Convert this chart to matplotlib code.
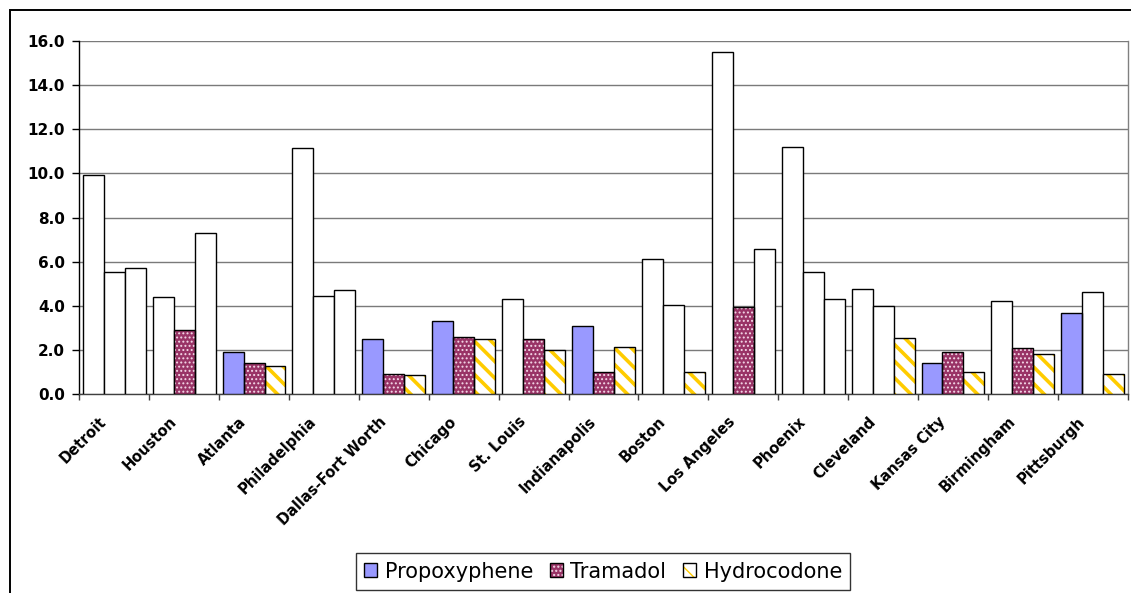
import numpy as np
import matplotlib
matplotlib.use("Agg")
import matplotlib.pyplot as plt
import matplotlib.transforms as mtransforms
from matplotlib.patches import Rectangle, Patch
from matplotlib.legend_handler import HandlerTuple

cities = ["Detroit", "Houston", "Atlanta", "Philadelphia", "Dallas-Fort Worth",
          "Chicago", "St. Louis", "Indianapolis", "Boston", "Los Angeles",
          "Phoenix", "Cleveland", "Kansas City", "Birmingham", "Pittsburgh"]
series_names = ["Propoxyphene", "Tramadol", "Hydrocodone"]
propoxyphene = [9.93, 4.39, 1.90, 11.15, 2.50, 3.31, 4.32, 3.11, 6.14, 15.52, 11.21, 4.78, 1.42, 4.24, 3.70]
tramadol = [5.52, 2.90, 1.42, 4.47, 0.93, 2.61, 2.49, 1.00, 4.04, 3.97, 5.52, 3.98, 1.90, 2.08, 4.65]
hydrocodone = [5.73, 7.29, 1.28, 4.71, 0.86, 2.49, 2.01, 2.14, 1.02, 6.57, 4.32, 2.55, 1.02, 1.82, 0.93]
# bars that appear unfilled (plain white) in the original chart
propoxyphene_unfilled = [1, 1, 0, 1, 0, 0, 1, 0, 1, 1, 1, 1, 0, 1, 0]
tramadol_unfilled = [1, 0, 0, 1, 0, 0, 0, 0, 1, 0, 1, 1, 0, 0, 1]
hydrocodone_unfilled = [1, 1, 0, 1, 0, 0, 0, 0, 0, 1, 1, 0, 0, 0, 0]
yticks = [0, 2, 4, 6, 8, 10, 12, 14, 16]

W, H = 1131, 593
fig = plt.figure(figsize=(W / 100, H / 100), dpi=100)
ax = fig.add_axes([79.3 / W, 1 - 394.3 / H, (1127.7 - 79.3) / W, (394.3 - 41) / H])

styles = [
    dict(face="#9999FF", hatch=None, hcolor=None, hlw=None),
    dict(face="#993366", hatch="....", hcolor="#F4D8E8", hlw=0.9),
    dict(face="white", hatch="\\\\", hcolor="#FFCC00", hlw=2.6),
]
data = [propoxyphene, tramadol, hydrocodone]
unfilled = [propoxyphene_unfilled, tramadol_unfilled, hydrocodone_unfilled]

x = np.arange(len(cities))
bw = 0.3
legend_handles = []
for k, (vals, unf, st) in enumerate(zip(data, unfilled, styles)):
    xs = x + (k - 1) * bw
    for xi, v, u in zip(xs, vals, unf):
        if u:
            ax.bar(xi, v, bw, color="white", edgecolor="black", linewidth=1.0, zorder=3)
        else:
            if st["hatch"]:
                with plt.rc_context({"hatch.linewidth": st["hlw"]}):
                    b = ax.bar(xi, v, bw, color=st["face"], edgecolor=st["hcolor"],
                               linewidth=0, hatch=st["hatch"], zorder=3)
                    for p in b:
                        if hasattr(p, "set_hatch_linewidth"):
                            p.set_hatch_linewidth(st["hlw"])
            else:
                ax.bar(xi, v, bw, color=st["face"], linewidth=0, zorder=3)
            ax.bar(xi, v, bw, fill=False, edgecolor="black", linewidth=1.0, zorder=4)
    if st["hatch"]:
        with plt.rc_context({"hatch.linewidth": st["hlw"]}):
            hp = Patch(facecolor=st["face"], edgecolor=st["hcolor"], linewidth=0, hatch=st["hatch"])
            if hasattr(hp, "set_hatch_linewidth"):
                hp.set_hatch_linewidth(st["hlw"])
    else:
        hp = Patch(facecolor=st["face"], linewidth=0)
    he = Patch(fill=False, edgecolor="black", linewidth=1.0)
    legend_handles.append((hp, he))

ax.set_xlim(-0.5, len(cities) - 0.5)
ax.set_ylim(0, 16)
ax.set_yticks(yticks)
ax.set_yticklabels([f"{t:.1f}" for t in yticks], fontsize=11, fontweight="bold",
                   family="DejaVu Sans")
ax.yaxis.grid(True, color="#7a7a7a", linewidth=1.0, zorder=0)
ax.set_axisbelow(True)
ax.tick_params(axis="y", direction="out", length=5.4, width=1.0, color="black", pad=5.0)

ax.set_xticks(x)
ax.set_xticks(np.arange(len(cities) + 1) - 0.5, minor=True)
ax.tick_params(axis="x", which="major", length=0, pad=18)
ax.tick_params(axis="x", which="minor", direction="out", length=4, width=1.0, color="#404040")
ax.set_xticklabels(cities, rotation=45, ha="right", va="center", rotation_mode="anchor",
                   fontsize=10.5, fontweight="bold", family="DejaVu Sans")
off = mtransforms.ScaledTranslation(-10 / 100, 0, fig.dpi_scale_trans)
for lab in ax.get_xticklabels():
    lab.set_transform(lab.get_transform() + off)

ax.spines["top"].set_visible(False)
ax.spines["right"].set_color("#808080")
ax.spines["left"].set_color("black")
ax.spines["bottom"].set_color("#404040")
for s in ax.spines.values():
    s.set_linewidth(1.0)

leg = fig.legend(legend_handles, series_names, handler_map={tuple: HandlerTuple(ndivide=1)},
                 loc="center", bbox_to_anchor=(603 / W, 1 - 571.5 / H), ncol=3,
                 prop={"family": "DejaVu Sans", "size": 15},
                 frameon=True, fancybox=False, shadow=False, edgecolor="black",
                 handlelength=0.62, handleheight=0.62, handletextpad=0.37,
                 columnspacing=0.8, borderpad=0.4, borderaxespad=0)
leg.get_frame().set_linewidth(1.0)

fig.add_artist(Rectangle((9.5 / W, -0.05), 1.1, 1 - 9.5 / H + 0.05, transform=fig.transFigure,
                         fill=False, edgecolor="black", linewidth=1.4))

fig.savefig("out.png", dpi=100, facecolor="white")
